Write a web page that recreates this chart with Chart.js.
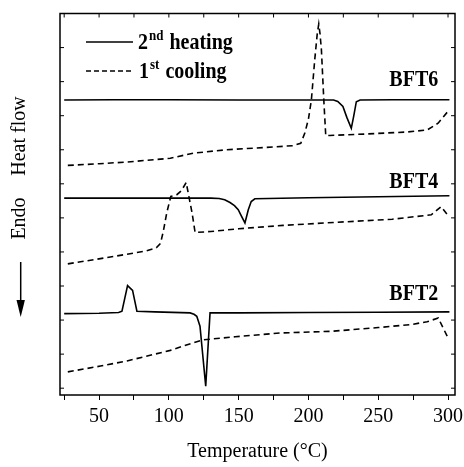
<!DOCTYPE html>
<html>
<head>
<meta charset="utf-8">
<script src="https://cdn.jsdelivr.net/npm/chart.js@4.4.1/dist/chart.umd.min.js"></script>
<style>
html,body{margin:0;padding:0;background:#fff;}
#wrap{width:464px;height:467px;position:relative;}
</style>
</head>
<body>
<div id="wrap"><canvas id="c"></canvas></div>
<script>
// ---- data (temperature in °C, heat flow in arbitrary offset units) ----
const xTicks = [25, 50, 75, 100, 125, 150, 175, 200, 225, 250, 275, 300];
const yTicks = [0, 1, 2, 3, 4, 5, 6, 7, 8, 9, 10, 11];

const bft6HeatT = [25, 60, 100, 150, 200, 218, 221, 224.7, 227.5, 230.7, 232.5, 234.3, 237, 260, 301];
const bft6HeatV = [8.46, 8.47, 8.47, 8.46, 8.46, 8.46, 8.42, 8.27, 7.95, 7.63, 8.0, 8.41, 8.46, 8.47, 8.47];
const bft6CoolT = [27.6, 50, 70, 101, 117.6, 141.4, 170, 189, 194.5, 197.4, 200, 202.1, 204.5, 206.3, 207.4, 208.3, 209.3, 211, 212.4, 215, 240, 270, 285, 292.9, 299.6];
const bft6CoolV = [6.54, 6.59, 6.64, 6.75, 6.90, 7.0, 7.07, 7.12, 7.19, 7.49, 7.9, 8.46, 9.64, 10.4, 10.69, 10.4, 9.93, 8.46, 7.41, 7.42, 7.46, 7.52, 7.58, 7.78, 8.11];

const bft4HeatT = [25, 80, 130, 136, 140, 143.8, 147, 149.7, 152, 154.5, 156.9, 159, 161.6, 200, 250, 301];
const bft4HeatV = [5.58, 5.58, 5.58, 5.57, 5.53, 5.45, 5.36, 5.24, 5.05, 4.85, 5.24, 5.48, 5.56, 5.59, 5.62, 5.65];
const bft4CoolT = [27.6, 55, 84, 91, 94, 96, 98.5, 101.4, 105.7, 109, 112.4, 116.6, 118.8, 130, 150, 181.9, 220, 260, 288, 295, 299.6];
const bft4CoolV = [3.65, 3.83, 4.03, 4.12, 4.25, 4.6, 5.15, 5.63, 5.68, 5.8, 6.04, 5.15, 4.57, 4.6, 4.68, 4.78, 4.87, 4.96, 5.09, 5.33, 5.09];

const bft2HeatT = [25, 50, 64, 66.4, 70.4, 74, 77.1, 90, 115.2, 118, 120, 122.3, 126.4, 129.5, 150, 200, 250, 301];
const bft2HeatV = [2.19, 2.2, 2.22, 2.26, 3.01, 2.87, 2.26, 2.24, 2.21, 2.17, 2.11, 1.82, 0.06, 2.21, 2.21, 2.22, 2.23, 2.24];
const bft2CoolT = [27.6, 51, 70, 89, 101, 112, 124.7, 147.5, 179.5, 216.6, 250, 273.8, 285, 293, 299.6];
const bft2CoolV = [0.48, 0.65, 0.8, 0.99, 1.11, 1.26, 1.42, 1.51, 1.62, 1.67, 1.78, 1.87, 1.95, 2.06, 1.51];

const sampleNames = ['BFT6', 'BFT4', 'BFT2'];
const sampleLabelT = [293, 293, 293];
const sampleLabelV = [9.05, 6.06, 2.75];

// ---- build chart ----
const pts = (T, V) => T.map((t, i) => ({x: t, y: V[i]}));
const solid = (T, V) => ({data: pts(T, V), borderColor: '#000', borderWidth: 1.6, pointRadius: 0, tension: 0, fill: false});
const dashed = (T, V) => ({data: pts(T, V), borderColor: '#000', borderWidth: 1.6, borderDash: [6, 4], pointRadius: 0, tension: 0, fill: false});

const SERIF = "'Liberation Serif', 'Times New Roman', serif";
Chart.defaults.font.family = SERIF;
Chart.defaults.color = '#000';

const SY = 1.15; // glyphs in the reference are slightly taller than wide

const noPad = s => { s.paddingLeft = 0; s.paddingRight = 0; s.paddingTop = 0; s.paddingBottom = 0; };

const decor = {
  id: 'decor',
  afterDraw(chart) {
    const {ctx, chartArea: a, scales: {x, y}} = chart;
    ctx.save();
    // frame
    ctx.strokeStyle = '#000';
    ctx.lineWidth = 1.5;
    ctx.strokeRect(a.left, a.top, a.right - a.left, a.bottom - a.top);
    // inward ticks
    ctx.lineWidth = 1;
    ctx.beginPath();
    x.ticks.forEach(t => { const px = x.getPixelForValue(t.value); ctx.moveTo(px, a.top); ctx.lineTo(px, a.top + 4); });
    y.ticks.forEach(t => {
      const py = y.getPixelForValue(t.value);
      ctx.moveTo(a.left, py); ctx.lineTo(a.left + 4, py);
      ctx.moveTo(a.right, py); ctx.lineTo(a.right - 4, py);
    });
    ctx.stroke();

    // legend
    ctx.fillStyle = '#000';
    ctx.lineWidth = 1.5;
    const lx0 = a.left + 26, lx1 = a.left + 73;
    const ly1 = a.top + 28.5, ly2 = a.top + 57.5;
    ctx.beginPath(); ctx.moveTo(lx0, ly1); ctx.lineTo(lx1, ly1); ctx.stroke();
    ctx.setLineDash([5, 3]);
    ctx.beginPath(); ctx.moveTo(lx0, ly2); ctx.lineTo(lx1, ly2); ctx.stroke();
    ctx.setLineDash([]);
    const tallText = (s, px, py) => {
      ctx.save(); ctx.translate(px, py); ctx.scale(1, SY); ctx.fillText(s, 0, 0); ctx.restore();
    };
    const supText = (main, sup, rest, x0, base) => {
      ctx.textAlign = 'left'; ctx.textBaseline = 'alphabetic';
      ctx.font = "bold 20px " + SERIF;
      tallText(main, x0, base);
      let xx = x0 + ctx.measureText(main).width + 1;
      ctx.font = "bold 13px " + SERIF;
      tallText(sup, xx, base - 9);
      xx += ctx.measureText(sup).width + 1;
      ctx.font = "bold 20px " + SERIF;
      tallText(rest, xx, base);
    };
    supText('2', 'nd', ' heating', lx1 + 5, ly1 + 6.5);
    supText('1', 'st', ' cooling', lx1 + 6, ly2 + 6.5);

    // sample labels
    ctx.font = "bold 20px " + SERIF;
    ctx.textAlign = 'right'; ctx.textBaseline = 'middle';
    sampleNames.forEach((n, i) => {
      tallText(n, x.getPixelForValue(sampleLabelT[i]), y.getPixelForValue(sampleLabelV[i]));
    });

    // y axis title + arrow
    ctx.font = "20px " + SERIF;
    ctx.textAlign = 'center'; ctx.textBaseline = 'middle';
    const tx = 19.5;
    [['Heat flow', 136], ['Endo', 218.5]].forEach(([s, cy]) => {
      ctx.save(); ctx.translate(tx, cy); ctx.rotate(-Math.PI / 2); ctx.fillText(s, 0, 0); ctx.restore();
    });
    ctx.lineWidth = 1.5;
    ctx.beginPath(); ctx.moveTo(20.7, 262); ctx.lineTo(20.7, 304); ctx.stroke();
    ctx.beginPath(); ctx.moveTo(16.5, 300); ctx.lineTo(24.9, 300); ctx.lineTo(20.7, 317); ctx.closePath(); ctx.fill();
    ctx.restore();
  }
};

new Chart(document.getElementById('c'), {
  type: 'line',
  data: {
    datasets: [
      solid(bft6HeatT, bft6HeatV), dashed(bft6CoolT, bft6CoolV),
      solid(bft4HeatT, bft4HeatV), dashed(bft4CoolT, bft4CoolV),
      solid(bft2HeatT, bft2HeatV), dashed(bft2CoolT, bft2CoolV)
    ]
  },
  options: {
    responsive: true,
    maintainAspectRatio: false,
    animation: false,
    events: [],
    layout: {padding: {top: 13.5, right: 9, left: 0, bottom: 0}},
    plugins: {legend: {display: false}, tooltip: {enabled: false}},
    scales: {
      x: {
        type: 'linear', position: 'bottom', min: 22, max: 305,
        afterBuildTicks: s => { s.ticks = xTicks.map(v => ({value: v})); },
        afterFit: s => { s.height = 72; noPad(s); },
        ticks: {
          autoSkip: false, maxRotation: 0, padding: 5,
          font: {size: 20, family: SERIF}, color: '#000',
          callback: v => (v % 50 === 0 ? String(v) : '')
        },
        grid: {drawOnChartArea: false, drawTicks: true, tickLength: 5, color: '#000', lineWidth: 1},
        border: {display: false},
        title: {display: true, text: 'Temperature (°C)', font: {size: 20, family: SERIF}, color: '#000', padding: {top: 0, bottom: 3}}
      },
      y: {
        type: 'linear', position: 'left', min: -0.2, max: 11,
        afterBuildTicks: s => { s.ticks = yTicks.map(v => ({value: v})); },
        afterFit: s => { s.width = 60; noPad(s); },
        ticks: {display: false},
        grid: {display: false},
        border: {display: false}
      }
    }
  },
  plugins: [decor]
});
</script>
</body>
</html>
